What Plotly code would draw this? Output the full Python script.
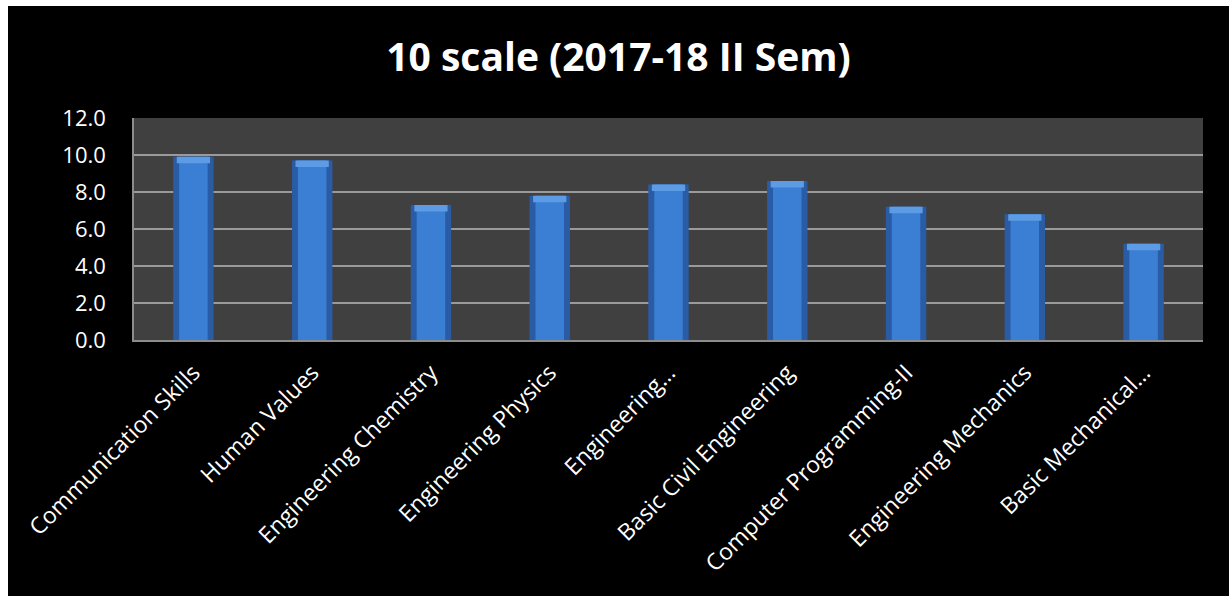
import plotly.graph_objects as go

categories = ["Communication Skills", "Human Values", "Engineering Chemistry",
              "Engineering Physics", "Engineering…", "Basic Civil Engineering",
              "Computer Programming-II", "Engineering Mechanics", "Basic Mechanical…"]
values = [9.9, 9.7, 7.3, 7.8, 8.4, 8.6, 7.2, 6.8, 5.2]
y_ticks = [0, 2, 4, 6, 8, 10, 12]
title_text = "10 scale (2017-18 II Sem)"

W, H = 1221, 590
L, R, T, B = 126, 26, 112, 256

cap = 0.35
fig = go.Figure()
fig.add_trace(go.Bar(x=categories, y=values, width=0.34,
                     marker=dict(color="#2a5ca6", line=dict(width=0)),
                     hoverinfo="skip"))
fig.add_trace(go.Bar(x=categories, y=values, width=0.24,
                     marker=dict(color="#3b7fd4", line=dict(width=0))))
fig.add_trace(go.Bar(x=categories, y=[cap] * len(values),
                     base=[v - cap for v in values], width=0.28,
                     marker=dict(color="#5d9be4", line=dict(width=0)),
                     hoverinfo="skip"))

fig.update_layout(
    width=W, height=H,
    margin=dict(l=L, r=R, t=T, b=B, autoexpand=False),
    paper_bgcolor="#000000",
    plot_bgcolor="#404040",
    barmode="overlay",
    showlegend=False,
    title=dict(text="<b>" + title_text + "</b>", x=0.5, xanchor="center",
               xref="container", y=1 - 51 / H, yref="container", yanchor="middle",
               font=dict(family="Open Sans", size=39, color="#ffffff")),
    font=dict(family="Open Sans", color="#ffffff"),
)
fig.update_xaxes(showgrid=False, showline=True, linecolor="#8c8c8c", linewidth=2,
                 tickangle=-45, ticks="", ticklabelstandoff=8,
                 tickfont=dict(family="Open Sans", size=23, color="#ffffff"))
fig.update_yaxes(range=[0, 12], tickvals=y_ticks, tickformat=".1f",
                 showgrid=True, gridcolor="#9a9a9a", gridwidth=1.5,
                 showline=True, linecolor="#8c8c8c", linewidth=1.5,
                 zeroline=False, ticks="", ticklabelstandoff=22,
                 tickfont=dict(family="Open Sans", size=22, color="#ffffff"))

fig.write_html("out.html",
               post_script="document.body.style.margin='6px 0 0 8px';"
                           "document.body.style.overflow='hidden';")
